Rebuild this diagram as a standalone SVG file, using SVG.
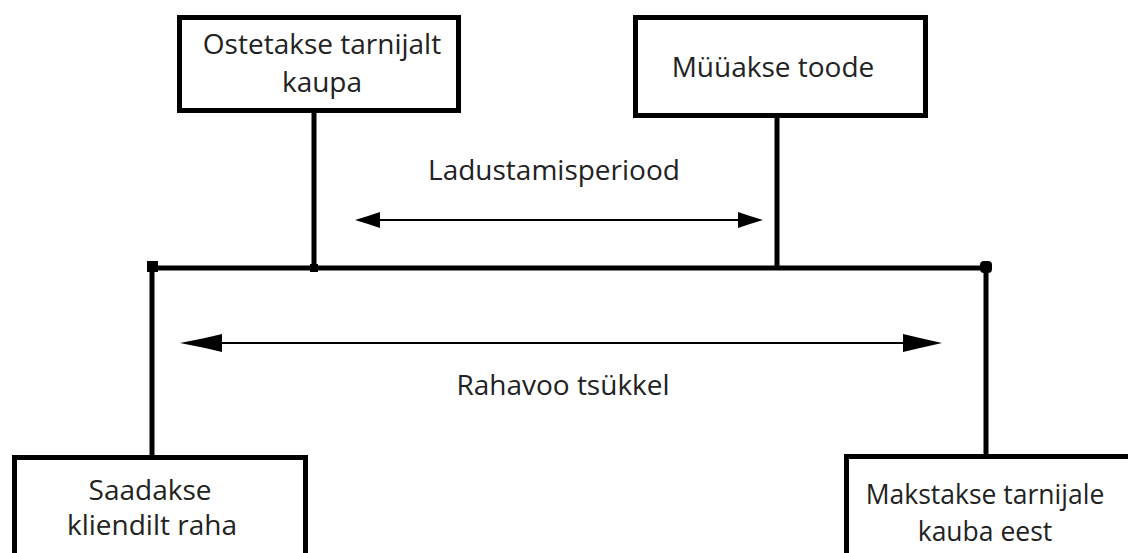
<svg xmlns="http://www.w3.org/2000/svg" width="1128" height="553" viewBox="0 0 1128 553">
<style>
.box{fill:#fff;stroke:#000;stroke-width:5}
.thick{stroke:#000;stroke-width:5;fill:none}
.thin{stroke:#000;stroke-width:2;fill:none}
.head{fill:#000}
text{font-family:"Open Sans","Noto Sans",sans-serif;font-size:28px;fill:#222;text-anchor:middle}
.tight{font-size:26.500px}
</style>
<rect width="1128" height="553" fill="#fff"/>
<g id="connectors">
<line class="thick" x1="150" y1="268" x2="987" y2="268"/>
<line class="thick" x1="314" y1="113" x2="314" y2="268"/>
<line class="thick" x1="777" y1="118" x2="777" y2="268"/>
<line class="thick" x1="152" y1="268" x2="152" y2="457"/>
<line class="thick" x1="986" y1="268" x2="986" y2="455"/>
<rect class="head" x="147" y="261" width="11" height="11"/>
<rect class="head" x="310" y="264" width="8" height="8"/>
<rect class="head" x="980" y="261" width="12" height="12" rx="4"/>
<line class="thin" x1="378" y1="220" x2="740" y2="220"/>
<path class="head" d="M380,212 L380,228 L368,224 L355,220 L368,216 Z"/>
<path class="head" d="M738,212 L738,228 L750,224 L763,220 L750,216 Z"/>
<line class="thin" x1="220" y1="343" x2="905" y2="343"/>
<path class="head" d="M222,334 L222,352 L205,348 L180,343 L205,338 Z"/>
<path class="head" d="M903,334 L903,352 L920,348 L942,343 L920,338 Z"/>
</g>
<g id="node-ostetakse">
<rect class="box" x="179.500" y="17.500" width="279" height="93"/>
<text x="322" y="54">Ostetakse tarnijalt</text>
<text x="322" y="92">kaupa</text>
</g>
<g id="node-myyakse">
<rect class="box" x="635.500" y="17.500" width="290" height="98"/>
<text x="773" y="77">Müüakse toode</text>
</g>
<g id="label-ladustamisperiood">
<text x="554" y="180">Ladustamisperiood</text>
</g>
<g id="label-rahavoo">
<text x="563" y="395">Rahavoo tsükkel</text>
</g>
<g id="node-saadakse">
<rect class="box" x="14.500" y="457.500" width="291" height="110"/>
<text x="150" y="500">Saadakse</text>
<text x="152" y="535">kliendilt raha</text>
</g>
<g id="node-makstakse">
<rect class="box" x="846.500" y="456.500" width="300" height="110"/>
<text class="tight" x="985" y="504">Makstakse tarnijale</text>
<text class="tight" x="985" y="541">kauba eest</text>
</g>
</svg>
